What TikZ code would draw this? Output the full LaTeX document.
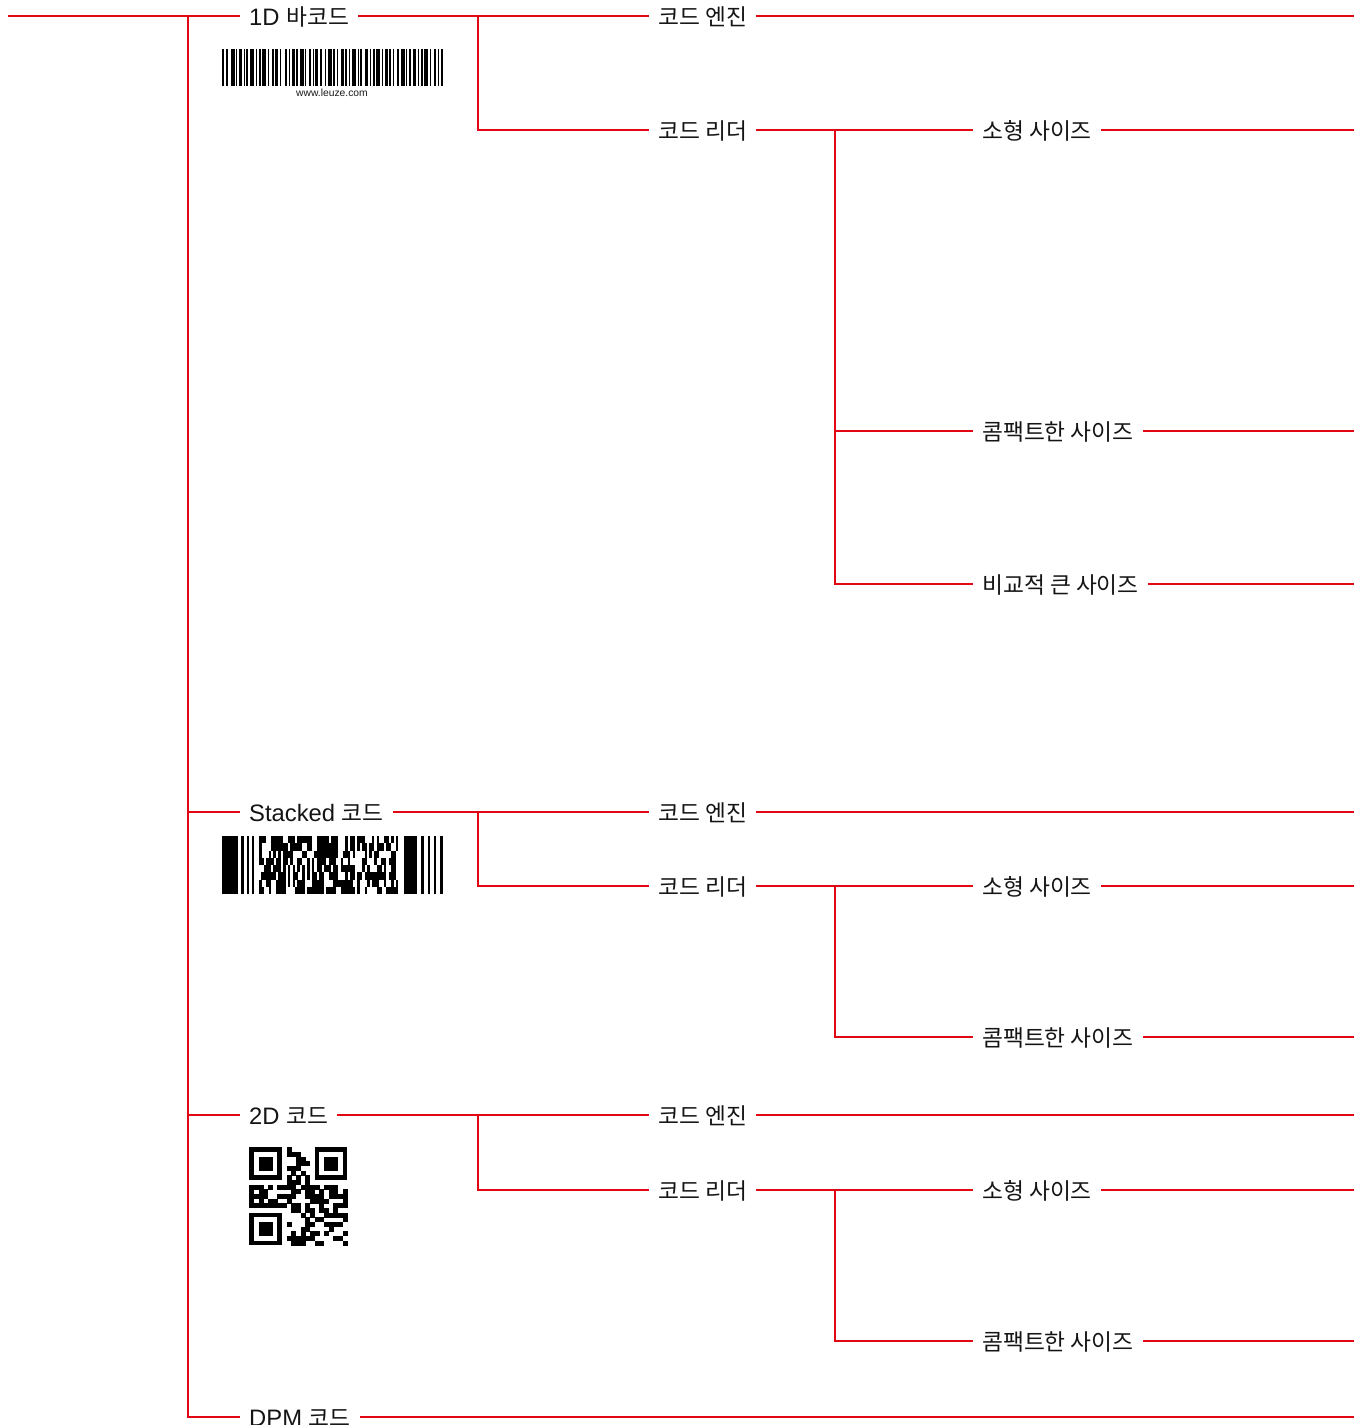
\documentclass[tikz,border=0pt]{standalone}
\usepackage{fontspec}
\setmainfont{Liberation Sans}
\newfontfamily\krfont[Scale=0.955]{Noto Sans CJK KR}
\newcommand\hk[1]{{\krfont #1}}
\definecolor{lred}{RGB}{227,6,19}
\begin{document}
\begin{tikzpicture}[x=1pt,y=-1pt,
  lbl/.style={inner xsep=9pt, inner ysep=0pt, text height=19pt, text depth=0pt,
    anchor=west, text=black!92, font=\fontsize{23.8}{26}\selectfont},
  conn/.style={draw=lred, line width=1.2pt}]
\useasboundingbox (0,0) rectangle (1354,1425);
\coordinate (E) at (1354,0);
\coordinate (root) at (8,16);
\coordinate (trunk) at (188,16);
\coordinate (J1) at (478,0);
\coordinate (J2) at (835,0);

% level 1
\node[lbl] (l1d) at (240,16) {1D \hk{바코드}};
\node[lbl] (lst) at (240,812) {Stacked \hk{코드}};
\node[lbl] (l2d) at (240,1115) {2D \hk{코드}};
\node[lbl] (ldpm) at (240,1417) {DPM \hk{코드}};

% 1D branch
\node[lbl] (ea) at (649,16) {\hk{코드 엔진}};
\node[lbl] (ra) at (649,130) {\hk{코드 리더}};
\node[lbl] (sa) at (973,130) {\hk{소형 사이즈}};
\node[lbl] (ca) at (973,431) {\hk{콤팩트한 사이즈}};
\node[lbl] (ba) at (973,584) {\hk{비교적 큰 사이즈}};

% Stacked branch
\node[lbl] (eb) at (649,812) {\hk{코드 엔진}};
\node[lbl] (rb) at (649,886) {\hk{코드 리더}};
\node[lbl] (sb) at (973,886) {\hk{소형 사이즈}};
\node[lbl] (cb) at (973,1037) {\hk{콤팩트한 사이즈}};

% 2D branch
\node[lbl] (ec) at (649,1115) {\hk{코드 엔진}};
\node[lbl] (rc) at (649,1190) {\hk{코드 리더}};
\node[lbl] (sc) at (973,1190) {\hk{소형 사이즈}};
\node[lbl] (cc) at (973,1341) {\hk{콤팩트한 사이즈}};

% trunk connectors
\draw[conn] (root) -- (l1d.west);
\draw[conn] (trunk) |- (ldpm.west);
\draw[conn] (trunk |- lst.west) -- (lst.west);
\draw[conn] (trunk |- l2d.west) -- (l2d.west);
\draw[conn] (ldpm.east) -- (ldpm.east -| E);

% 1D connectors
\draw[conn] (l1d.east) -- (ea.west);
\draw[conn] (J1 |- l1d.east) |- (ra.west);
\draw[conn] (ea.east) -- (ea.east -| E);
\draw[conn] (ra.east) -- (sa.west);
\draw[conn] (J2 |- ra.east) |- (ba.west);
\draw[conn] (J2 |- ca.west) -- (ca.west);
\draw[conn] (sa.east) -- (sa.east -| E);
\draw[conn] (ca.east) -- (ca.east -| E);
\draw[conn] (ba.east) -- (ba.east -| E);

% Stacked connectors
\draw[conn] (lst.east) -- (eb.west);
\draw[conn] (J1 |- lst.east) |- (rb.west);
\draw[conn] (eb.east) -- (eb.east -| E);
\draw[conn] (rb.east) -- (sb.west);
\draw[conn] (J2 |- rb.east) |- (cb.west);
\draw[conn] (sb.east) -- (sb.east -| E);
\draw[conn] (cb.east) -- (cb.east -| E);

% 2D connectors
\draw[conn] (l2d.east) -- (ec.west);
\draw[conn] (J1 |- l2d.east) |- (rc.west);
\draw[conn] (ec.east) -- (ec.east -| E);
\draw[conn] (rc.east) -- (sc.west);
\draw[conn] (J2 |- rc.east) |- (cc.west);
\draw[conn] (sc.east) -- (sc.east -| E);
\draw[conn] (cc.east) -- (cc.east -| E);

% 1D barcode
\gdef\bx{222}
\foreach \w/\g in {2/2,2/3,4/1,1/2,3/2,1/1,2/2,4/2,1/2,2/1,4/2,1/3,2/1,3/2,1/4,2/2,1/2,3/1,2/2,4/1,1/3,2/2,1/1,3/2,2/3,1/2,4/1,2/2,1/3,3/1,2/2,1/2,4/2,1/1,2/3,3/2,1/2,2/1,4/2,1/2,3/1,2/2,1/3,2/2,4/1,1/2,2/2,3/2,1/2,2/1,4/2,1/3,2/2,1/2,2/0}{
  \fill[black] (\bx,49) rectangle ++(\w,37);
  \pgfmathsetmacro\bxtmp{\bx+\w+\g}\xdef\bx{\bxtmp}
}
\node[font=\fontsize{10.3}{12}\selectfont, inner sep=0pt, text=black!90] (url) at (332,92.5) {www.leuze.com};

% Stacked (PDF417-like) barcode
\fill[black] (222,836) rectangle (238,894);
\fill[black] (241,836) rectangle (244,894);
\fill[black] (247,836) rectangle (249,894);
\fill[black] (252,836) rectangle (254,894);
\fill[black] (404,836) rectangle (417,894);
\fill[black] (421,836) rectangle (424,894);
\fill[black] (428,836) rectangle (430,894);
\fill[black] (434,836) rectangle (436,894);
\fill[black] (440,836) rectangle (443,894);
\pgfmathsetseed{17}
\foreach \r in {0,...,7}{\foreach \c in {0,...,57}{
  \pgfmathrandominteger{\qk}{0}{99}
  \ifnum\qk<60 \fill[black] (259+\c*2.4,836+\r*7.25) rectangle ++(2.6,7.45);\fi
}}

% QR code
\foreach \a/\b in {0/0,14/0,0/14}{
  \fill[black] (249.3+\a*4.667,1147.3+\b*4.667) rectangle ++(32.67,32.67);
  \fill[white] (249.3+\a*4.667+4.667,1147.3+\b*4.667+4.667) rectangle ++(23.33,23.33);
  \fill[black] (249.3+\a*4.667+9.333,1147.3+\b*4.667+9.333) rectangle ++(14,14);
}
\pgfmathsetseed{5}
\foreach \r in {0,...,20}{\foreach \c in {0,...,20}{
  \pgfmathtruncatemacro\qsk{or(or(and(\r<8,\c<8),and(\r<8,\c>12)),and(\r>12,\c<8))}
  \ifnum\qsk=0
    \pgfmathtruncatemacro\qtm{or(\r==6,\c==6)}
    \ifnum\qtm=1
      \pgfmathtruncatemacro\qon{1-mod(\r+\c,2)}
    \else
      \pgfmathrandominteger{\qkk}{0}{99}
      \pgfmathtruncatemacro\qon{\qkk<52}
    \fi
    \ifnum\qon=1 \fill[black] (249.3+\c*4.667,1147.3+\r*4.667) rectangle ++(4.9,4.9);\fi
  \fi
}}
\end{tikzpicture}
\end{document}
